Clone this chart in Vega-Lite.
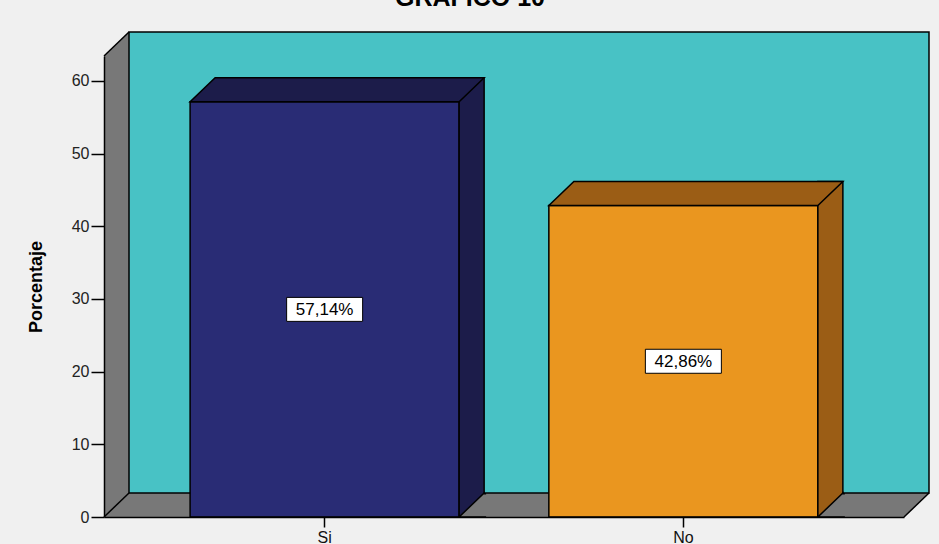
{
  "$schema": "https://vega.github.io/schema/vega-lite/v6.json",
  "width": 800,
  "height": 461,
  "autosize": {"type": "none"},
  "padding": {"left": 104, "top": 56, "right": 35, "bottom": 27},
  "background": "#f0f0f0",
  "config": {"view": {"stroke": null}, "font": "Liberation Sans"},
  "title": {"text": "GRÁFICO 10", "fontSize": 25, "fontWeight": "bold", "font": "Liberation Sans", "color": "#000000", "anchor": "middle", "frame": "group", "offset": 0, "dy": 2, "dx": -34, "baseline": "alphabetic"},
  "data": {"values": [
    {"respuesta": "Si", "porcentaje": 57.14, "etiqueta": "57,14%"},
    {"respuesta": "No", "porcentaje": 42.86, "etiqueta": "42,86%"}
  ]},
  "resolve": {"scale": {"x": "independent", "y": "independent"}},
  "layer": [
    {
      "data": {"values": [{}]},
      "layer": [
        {
          "mark": {"type": "rect", "fill": "#787878", "x2Offset": 25, "y2Offset": -24},
          "encoding": {
            "x": {"datum": 0, "type": "quantitative", "scale": {"domain": [0, 1], "nice": false, "zero": false}, "axis": null},
            "x2": {"datum": 1},
            "y": {"datum": 0, "type": "quantitative", "scale": {"domain": [0, 63.44], "nice": false}, "axis": null},
            "y2": {"datum": 63.44}
          }
        },
        {
          "mark": {"type": "rect", "fill": "#48c2c5", "stroke": "#000000", "strokeWidth": 1.5, "xOffset": 25, "x2Offset": 25, "yOffset": -24, "y2Offset": -24},
          "encoding": {
            "x": {"datum": 0, "type": "quantitative"},
            "x2": {"datum": 1},
            "y": {"datum": 0, "type": "quantitative"},
            "y2": {"datum": 63.44}
          }
        },
        {
          "mark": {"type": "point", "shape": "M0,0 L0,-0.96 L1,-0.96 Z", "size": 2500, "filled": true, "fill": "#f0f0f0", "strokeWidth": 0, "opacity": 1},
          "encoding": {
            "x": {"datum": 0, "type": "quantitative"},
            "y": {"datum": 63.44, "type": "quantitative"}
          }
        },
        {
          "mark": {"type": "point", "shape": "M0,0 L1,-0.96", "size": 2500, "filled": false, "stroke": "#000000", "strokeWidth": 1.5, "opacity": 1},
          "encoding": {
            "x": {"datum": 0, "type": "quantitative"},
            "y": {"datum": 63.44, "type": "quantitative"}
          }
        },
        {
          "mark": {"type": "point", "shape": "M0,0 L1,-0.96", "size": 2500, "filled": false, "stroke": "#000000", "strokeWidth": 1.5, "opacity": 1},
          "encoding": {
            "x": {"datum": 0, "type": "quantitative"},
            "y": {"datum": 0, "type": "quantitative"}
          }
        },
        {
          "mark": {"type": "point", "shape": "M0,0 L1,0 L1,-0.96 Z", "size": 2500, "filled": true, "fill": "#f0f0f0", "strokeWidth": 0, "opacity": 1},
          "encoding": {
            "x": {"datum": 1, "type": "quantitative"},
            "y": {"datum": 0, "type": "quantitative"}
          }
        },
        {
          "mark": {"type": "point", "shape": "M0,0 L1,-0.96", "size": 2500, "filled": false, "stroke": "#000000", "strokeWidth": 1.5, "opacity": 1},
          "encoding": {
            "x": {"datum": 1, "type": "quantitative"},
            "y": {"datum": 0, "type": "quantitative"}
          }
        }
      ]
    },
    {
      "encoding": {
        "x": {"field": "respuesta", "type": "nominal", "sort": ["Si", "No"],
          "scale": {"type": "band", "paddingInner": 0.25, "paddingOuter": 0.24},
          "axis": {"orient": "bottom", "title": null, "labelFontSize": 16, "labelColor": "#111111", "labelAngle": 0, "tickSize": 10, "tickWidth": 1.5, "tickColor": "#000000", "domainColor": "#000000", "domainWidth": 1.5, "labelPadding": 2, "zindex": 1}}
      },
      "layer": [
        {
          "mark": {"type": "bar", "stroke": "#000000", "strokeWidth": 1.5},
          "encoding": {
            "y": {"field": "porcentaje", "type": "quantitative", "scale": {"domain": [0, 63.44], "nice": false},
              "axis": {"orient": "left", "title": "Porcentaje", "values": [0, 10, 20, 30, 40, 50, 60], "labelFontSize": 16, "labelColor": "#222222", "tickSize": 13, "tickWidth": 1.5, "tickColor": "#000000", "domainColor": "#000000", "domainWidth": 1.5, "grid": false, "labelPadding": 2, "titleFontSize": 18, "titleFontWeight": "bold", "titleColor": "#000000", "titlePadding": 26, "zindex": 1}},
            "y2": {"datum": 0},
            "fill": {"condition": {"test": "datum.respuesta === 'Si'", "value": "#292c75"}, "value": "#ea961f"}
          }
        },
        {
          "mark": {"type": "bar", "width": 25, "xOffset": 147, "yOffset": -24, "stroke": "#000000", "strokeWidth": 1.5},
          "encoding": {
            "y": {"field": "porcentaje", "type": "quantitative"},
            "y2": {"datum": 0},
            "fill": {"condition": {"test": "datum.respuesta === 'Si'", "value": "#1c1c4a"}, "value": "#9b5d15"}
          }
        },
        {
          "mark": {"type": "point", "shape": "M1,-0.863 L0.9259,-0.863 L0.9259,-0.8889 L0,0 L1,0", "size": 2916, "filled": true, "fill": "#787878", "stroke": "#000000", "strokeWidth": 1.5, "opacity": 1, "xOffset": 134.5},
          "encoding": {
            "y": {"datum": 0, "type": "quantitative"}
          }
        },
        {
          "mark": {"type": "point", "shape": "M-0.8433,0 L0.8433,0 L1,-0.1505 L-0.6865,-0.1505 Z", "size": 101761, "filled": true, "stroke": "#000000", "strokeWidth": 1.5, "opacity": 1},
          "encoding": {
            "y": {"field": "porcentaje", "type": "quantitative"},
            "fill": {"condition": {"test": "datum.respuesta === 'Si'", "value": "#1c1c4a"}, "value": "#9b5d15"}
          }
        }
      ]
    },
    {
      "encoding": {
        "x": {"field": "respuesta", "type": "nominal", "sort": ["Si", "No"],
          "scale": {"type": "band", "paddingInner": 0.25, "paddingOuter": 0.24}, "axis": null},
        "y": {"field": "porcentaje", "type": "quantitative", "scale": {"domain": [0, 126.88], "nice": false}, "axis": null}
      },
      "layer": [
        {
          "mark": {"type": "point", "shape": "M-1,-0.3158 L1,-0.3158 L1,0.3158 L-1,0.3158 Z", "size": 5776, "filled": true, "fill": "#ffffff", "stroke": "#000000", "strokeWidth": 1, "opacity": 1}
        },
        {
          "mark": {"type": "text", "fontSize": 17, "align": "center", "baseline": "middle", "color": "#000000", "dy": 1},
          "encoding": {"text": {"field": "etiqueta"}}
        }
      ]
    }
  ]
}
